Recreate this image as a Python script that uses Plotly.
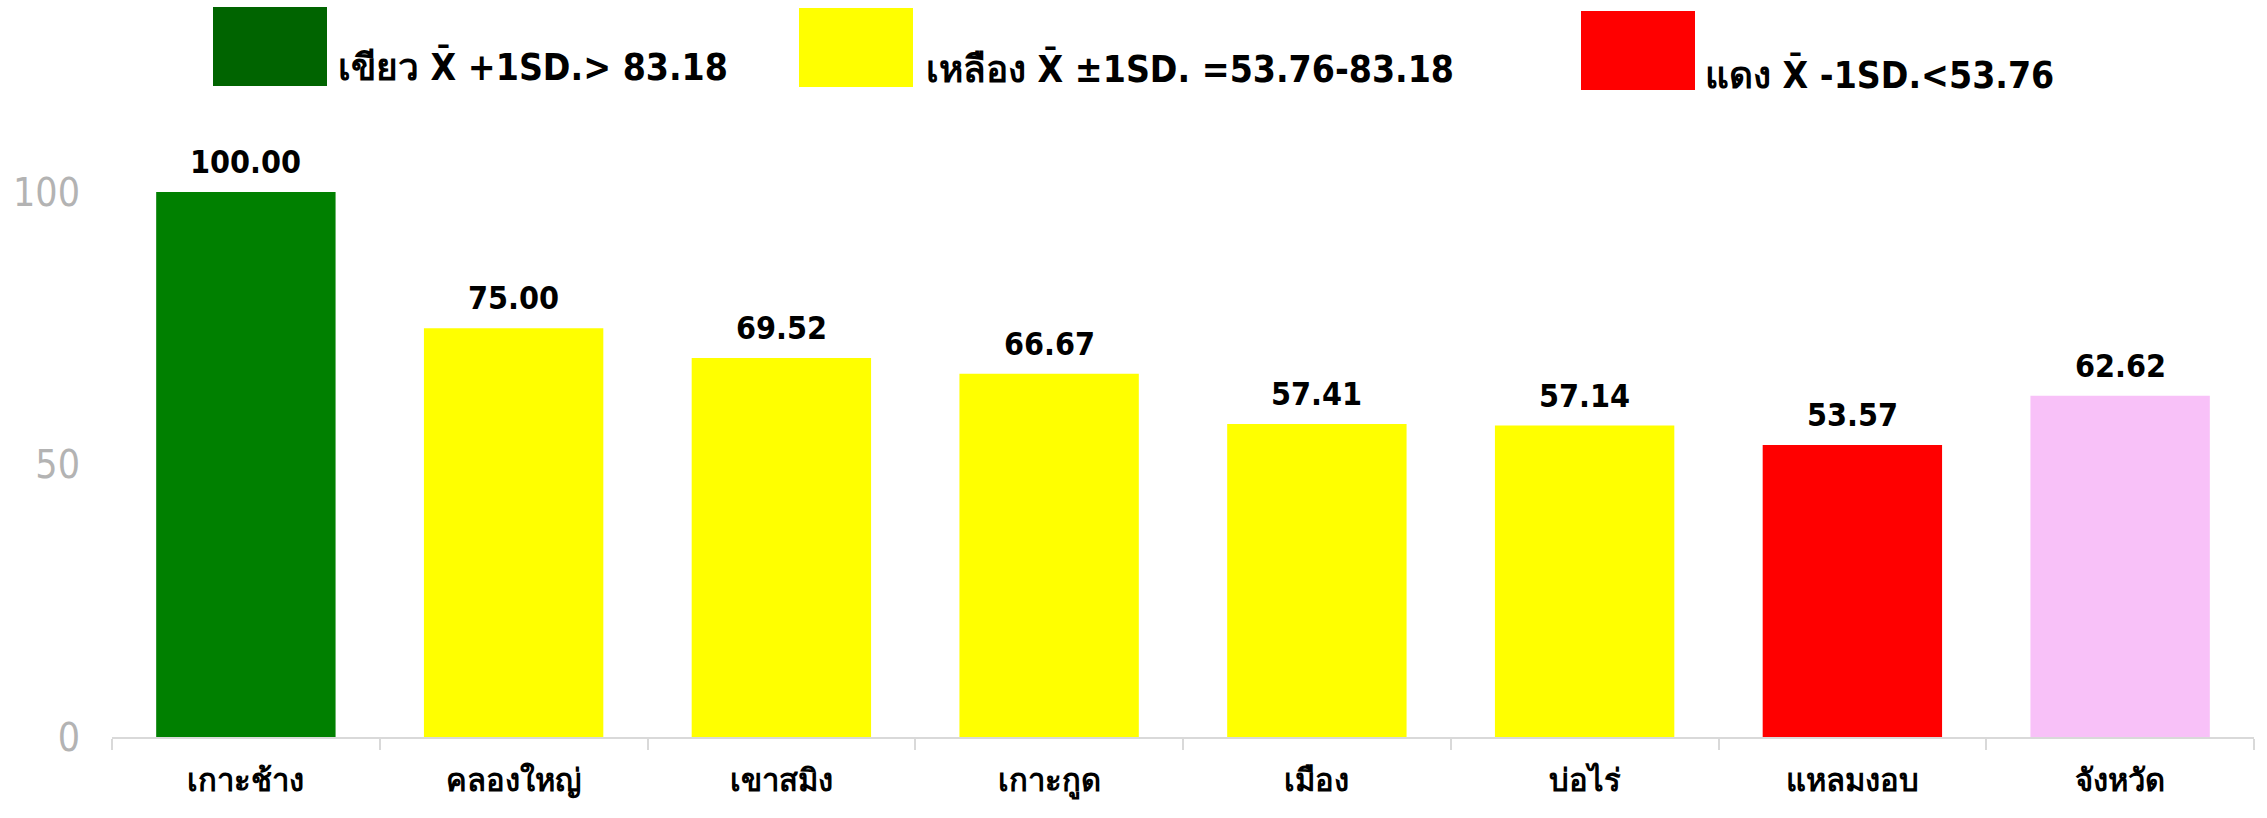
import plotly.graph_objects as go

# Districts and their scores
districts = ["เกาะช้าง", "คลองใหญ่", "เขาสมิง", "เกาะกูด", "เมือง", "บ่อไร่", "แหลมงอบ", "จังหวัด"]
scores = [100.00, 75.00, 69.52, 66.67, 57.41, 57.14, 53.57, 62.62]

# Band limits: mean + 1SD and mean - 1SD
upper_limit = 83.18
lower_limit = 53.76

y_ticks = [0, 50, 100]

GREEN, YELLOW, RED, PINK = "#008000", "#FFFF00", "#FF0000", "#F8C1F8"


def band_colour(name, v):
    if name == "จังหวัด":
        return PINK
    if v > upper_limit:
        return GREEN
    if v < lower_limit:
        return RED
    return YELLOW


colours = [band_colour(n, v) for n, v in zip(districts, scores)]

BOLD = "DejaVu Sans Condensed, DejaVu Sans, Tahoma, sans-serif"

fig = go.Figure(
    go.Bar(
        x=districts,
        y=scores,
        marker=dict(color=colours, line=dict(width=0)),
        hoverinfo="x+y",
    )
)

# value labels above each bar
for n, v in zip(districts, scores):
    fig.add_annotation(
        x=n, y=v, xref="x", yref="y",
        text=f"<b>{v:.2f}</b>",
        showarrow=False, yanchor="bottom", yshift=9,
        font=dict(family=BOLD, size=32, color="#000000"),
    )

# colour key across the top
L, R, T, B = 112, 2254, 192, 737


def px(x):
    return (x - L) / (R - L)


def py(y):
    return (B - y) / (B - T)


key_items = [
    ("#006400", (213, 327, 7, 86), 336, 66, f"เขียว X\u0304 +1SD.> {upper_limit:.2f}"),
    ("#FFFF00", (799, 913, 8, 87), 924, 69, f"เหลือง X\u0304 ±1SD. ={lower_limit:.2f}-{upper_limit:.2f}"),
    ("#FF0000", (1581, 1695, 11, 90), 1703, 74, f"แดง X\u0304 -1SD.<{lower_limit:.2f}"),
]
for col, (x0, x1, y0, y1), tx, ty, label in key_items:
    fig.add_shape(
        type="rect", xref="paper", yref="paper",
        x0=px(x0), x1=px(x1), y0=py(y1), y1=py(y0),
        fillcolor=col, line=dict(width=0), layer="above",
    )
    fig.add_annotation(
        xref="paper", yref="paper", x=px(tx), y=py(ty),
        xanchor="left", yanchor="middle", showarrow=False,
        text=f"<b>{label}</b>",
        font=dict(family=BOLD, size=37, color="#000000"),
    )

fig.update_layout(
    width=2267,
    height=818,
    margin=dict(l=L, r=2267 - R, t=T, b=818 - B, pad=0, autoexpand=False),
    paper_bgcolor="#FFFFFF",
    plot_bgcolor="#FFFFFF",
    bargap=0.33,
    showlegend=False,
    xaxis=dict(
        type="category",
        automargin=False,
        showline=True, linecolor="#D9D9D9", linewidth=2,
        ticks="outside", tickson="boundaries", ticklen=11,
        tickcolor="#D9D9D9", tickwidth=2,
        showgrid=False, zeroline=False,
        tickfont=dict(family=BOLD, size=31, color="#000000"),
        tickprefix="<b>", ticksuffix="</b>",
        ticklabelstandoff=15,
    ),
    yaxis=dict(
        range=[0, 100],
        automargin=False,
        tickvals=y_ticks,
        showline=False, showgrid=False, zeroline=False,
        ticks="",
        tickfont=dict(family="DejaVu Sans Condensed, DejaVu Sans, Tahoma, sans-serif", size=39, color="#B3B3B3"),
        ticklabelstandoff=31,
    ),
)

fig.write_html("out.html")
